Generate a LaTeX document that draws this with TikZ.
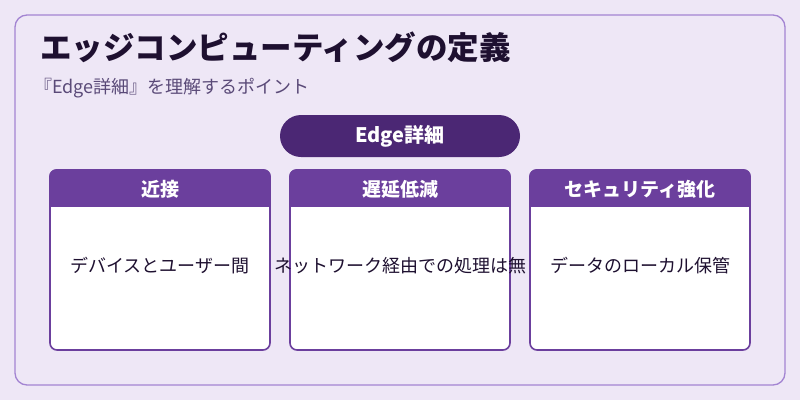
\documentclass[tikz,border=0pt]{standalone}
\usepackage{fontspec}
\setmainfont{Noto Sans CJK JP}
\definecolor{bg}{HTML}{EEE7F6}
\definecolor{frame}{HTML}{A384D2}
\definecolor{pill}{HTML}{4B2774}
\definecolor{head}{HTML}{6B3F9D}
\definecolor{ttl}{HTML}{1E1030}
\definecolor{sub}{HTML}{5A4A78}
\tikzset{
 cardbox/.style={draw=head,line width=1.6pt,fill=white,rounded corners=7pt},
 headtxt/.style={text=white,font=\bfseries\fontsize{19}{22}\selectfont},
 bodytxt/.style={text=ttl,font=\fontsize{18}{21}\selectfont},
}
\begin{document}
\begin{tikzpicture}[x=1pt,y=-1pt]
\useasboundingbox (0,0) rectangle (800,400);
\fill[bg] (0,0) rectangle (800,400);
\draw[frame,line width=1.3pt,rounded corners=12pt] (15,15) rectangle (785,385);
\node[anchor=west,inner sep=0,text=ttl,font=\bfseries\fontsize{31.5}{36}\selectfont] (title) at (40,47) {エッジコンピューティングの定義};
\node[anchor=west,inner sep=0,text=sub,font=\fontsize{18}{21}\selectfont] (subtitle) at (34,88) {『Edge詳細』を理解するポイント};
\fill[pill,rounded corners=21pt] (280,115) rectangle (520,157);
\node[text=white,font=\bfseries\fontsize{20}{23}\selectfont] (pilltxt) at (400,136) {Edge詳細};
\foreach \x/\h/\b/\n in {50/近接/デバイスとユーザー間/a,290/遅延低減/ネットワーク経由での処理は無/b,530/セキュリティ強化/データのローカル保管/c}{
  \draw[cardbox] (\x,170) rectangle (\x+220,350);
  \fill[head,rounded corners=7pt] (\x-0.8,169.2) rectangle (\x+220.8,195);
  \fill[head] (\x-0.8,185) rectangle (\x+220.8,207);
  \node[headtxt] (h\n) at (\x+110,189) {\h};
  \node[bodytxt] (b\n) at (\x+110,266) {\b};
}
\end{tikzpicture}
\end{document}
